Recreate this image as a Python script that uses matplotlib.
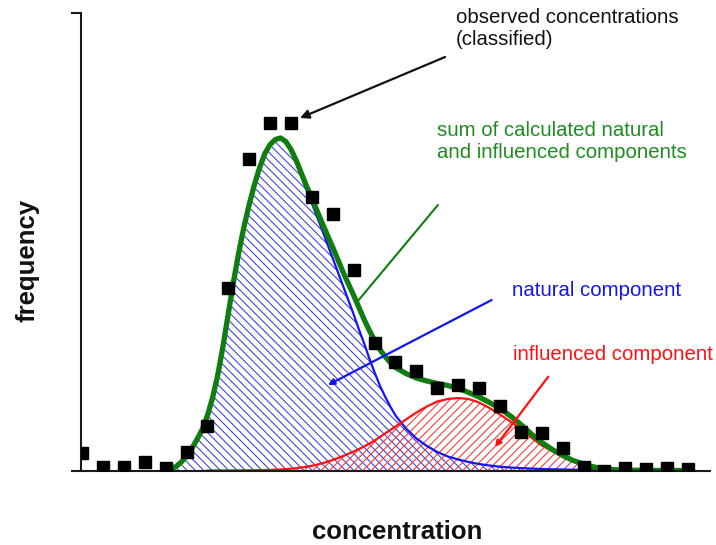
import matplotlib
matplotlib.use("Agg")
import matplotlib.pyplot as plt

plt.rcParams['font.family'] = ['Liberation Sans', 'DejaVu Sans']
plt.rcParams['hatch.linewidth'] = 0.75

# observed (classified) concentrations: class index -> frequency
obs_class = list(range(30))
obs_freq = [17.5, 4, 3.5, 8.5, 2.5, 18.5, 44.5, 182.5, 311.5, 347.5,
            347.5, 273.5, 256.5, 200.5, 127.5, 108.5, 99.5, 82.5, 85.5, 82.5,
            64.5, 38.5, 37.5, 22.5, 3.5, 0.0, 2.5, 1.5, 2.5, 1.5]

# sum curve and natural component, sampled along the concentration axis
sum_x = [4.0, 4.25, 4.5, 4.75, 5.0, 5.25, 5.5, 5.75, 6.0, 6.25,
         6.5, 6.75, 7.0, 7.25, 7.5, 7.75, 8.0, 8.25, 8.5, 8.75,
         9.0, 9.25, 9.5, 9.75, 10.0, 10.25, 10.5, 10.75,
         11.0, 11.5, 12.0, 12.5, 13.0,
         13.25, 13.5, 13.75, 14.0, 14.25, 14.5, 14.75,
         15.0, 15.5, 16.0, 16.5, 17.0, 17.5, 18.0, 18.5, 19.0, 19.5,
         20.0, 20.5, 21.0, 21.5, 22.0, 22.5, 23.0, 23.5, 24.0, 24.5,
         25.0, 25.5, 26.0, 27.0, 28.0, 29.0]
total = [0.2, 1.5, 4, 8.5, 14.5, 22, 31, 41, 55, 73,
         96, 125, 157, 189, 218, 244, 266, 286, 303, 317,
         326, 331, 332.5, 329, 321, 310, 297, 284,
         272, 247, 223, 198, 175,
         163, 151, 140, 130, 121, 114, 108,
         103, 97, 92.5, 89.5, 87, 85, 82, 78, 73.5, 68,
         62, 54.5, 46, 36.5, 28, 21, 15, 10, 6.5, 3.5,
         1.8, 0.8, 0.4, 0.1, 0, 0]
natural = [0.2, 1.5, 4, 8.5, 14.5, 22, 31, 41, 55, 73,
           96, 125, 157, 189, 218, 244, 266, 286, 302.5, 316.5,
           325.5, 330, 331.5, 327.5, 319.5, 308, 294, 280,
           267, 240, 212, 184, 156,
           141, 127, 112, 98, 85, 74, 64,
           55, 42, 32, 24.5, 18.5, 14, 11, 8.5, 6.5, 5,
           3.8, 3, 2.4, 1.9, 1.5, 1.2, 1.0, 0.8, 0.6, 0.45,
           0.3, 0.2, 0.1, 0, 0, 0]

# influenced component
infl_x = [6.0, 6.5, 7.0, 7.5, 8.0, 8.5, 9.0, 9.5, 10.0, 10.5,
          11.0, 11.5, 12.0, 12.5, 13.0, 13.5, 14.0, 14.5, 15.0, 15.5,
          16.0, 16.5, 17.0, 17.5, 18.0, 18.5, 19.0, 19.5, 20.0, 20.5,
          21.0, 21.5, 22.0, 22.5, 23.0, 23.5, 24.0, 24.5, 25.0, 26.0,
          27.0, 28.0, 29.0]
influenced = [0, 0, 0.05, 0.1, 0.2, 0.4, 0.6, 1.0, 1.8, 3.0,
              4.7, 7.2, 10.5, 14.5, 19, 24, 30, 37, 44, 51,
              58, 64, 69, 71.5, 72.5, 71.5, 68, 62.5, 56, 49,
              42, 33, 25, 19.5, 14, 9, 5.5, 3, 1.2, 0.2,
              0, 0, 0]

fig = plt.figure(figsize=(7.16, 5.45), dpi=100)
ax = fig.add_axes([81/716, (545-470.5)/545, (710-81)/716, (470.5-13)/545])
ax.set_xlim(-0.05, 30.05)
ax.set_ylim(0, 457.5)

blue = '#1414f0'
red = '#ff1010'
green = '#0f7d0f'

ax.fill_between(sum_x, 0, natural, facecolor='none', edgecolor='#3a3ae6',
                hatch='\\\\\\\\', linewidth=0)
ax.fill_between(infl_x, 0, influenced, facecolor='none', edgecolor='#ff3030',
                hatch='////', linewidth=0)
ax.plot(sum_x, natural, color=blue, lw=1.6, solid_joinstyle='round')
ax.plot(infl_x, influenced, color=red, lw=1.6, solid_joinstyle='round')
ax.plot(sum_x, total, color=green, lw=3.8, solid_capstyle='round',
        solid_joinstyle='round')
ax.plot(obs_class, obs_freq, linestyle='none', marker='s', markersize=8,
        color='black', zorder=5)

for s in ['top', 'right']:
    ax.spines[s].set_visible(False)
for s in ['left', 'bottom']:
    ax.spines[s].set_linewidth(1.5)
    ax.spines[s].set_color('#1a1a1a')
ax.set_xticks([])
ax.set_yticks([0, 457.5])
ax.set_yticklabels([])
ax.tick_params(axis='y', length=7, width=1.5, color='#1a1a1a', direction='out')

fs = 14.7
ax.annotate('', xy=(10.43, 352.5), xytext=(17.37, 413.5),
            arrowprops=dict(arrowstyle='-|>', color='#111111', lw=1.6,
                            mutation_scale=13, shrinkA=0, shrinkB=0))
ax.annotate('', xy=(13.16, 168.5), xytext=(17.03, 265.5),
            arrowprops=dict(arrowstyle='-', color=green, lw=1.5,
                            shrinkA=0, shrinkB=0))
ax.annotate('', xy=(11.77, 85.5), xytext=(19.6, 170.5),
            arrowprops=dict(arrowstyle='-|>', color=blue, lw=1.6,
                            mutation_scale=9, shrinkA=0, shrinkB=0))
ax.annotate('', xy=(19.76, 23.5), xytext=(22.31, 93.8),
            arrowprops=dict(arrowstyle='-|>', color=red, lw=1.6,
                            mutation_scale=9, shrinkA=0, shrinkB=0))

def ftext(px, py, s, **kw):
    fig.text(px/716, 1 - py/545, s, **kw)

ftext(456, 45, 'observed concentrations\n(classified)', fontsize=fs,
      color='#111111', ha='left', va='baseline')
ftext(437, 158, 'sum of calculated natural\nand influenced components',
      fontsize=fs, color='#1e8c1e', ha='left', va='baseline')
ftext(512, 296, 'natural component', fontsize=fs, color=blue,
      ha='left', va='baseline')
ftext(513, 360, 'influenced component', fontsize=fs, color=red,
      ha='left', va='baseline')
ftext(397, 539, 'concentration', fontsize=18.5, fontweight='bold',
      color='#111111', ha='center', va='baseline')
ftext(27, 260, 'frequency', fontsize=18.5, fontweight='bold',
      color='#111111', ha='center', va='center', rotation=90)

fig.savefig('out.png', dpi=100)
